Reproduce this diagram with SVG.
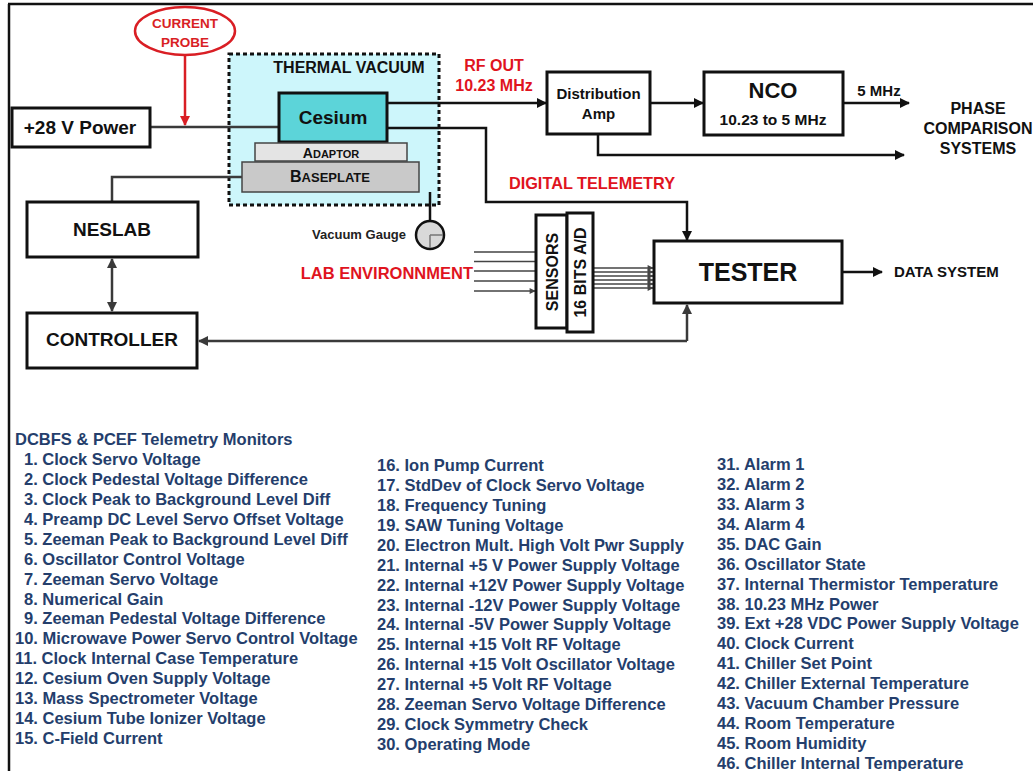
<svg xmlns="http://www.w3.org/2000/svg" width="1033" height="771" viewBox="0 0 1033 771">
<defs>
<style>
text{font-family:"Liberation Sans",Arial,sans-serif;font-weight:bold}
.box{fill:#fff;stroke:#111;stroke-width:3}
.lbl{font-size:19px;fill:#111;text-anchor:middle}
.mid{text-anchor:middle;fill:#111}
.red{fill:#e0141e}
.ln{fill:none;stroke:#111;stroke-width:2.5}
.lg{fill:none;stroke:#3a3a3a;stroke-width:2.5}
.thin{fill:none;stroke:#444;stroke-width:1.5}
.list text{font-size:16.5px;fill:#243e6c}
</style>
<marker id="ah" viewBox="0 0 10 10" refX="9" refY="5" markerWidth="11" markerHeight="10" orient="auto" markerUnits="userSpaceOnUse"><path d="M0,0L10,5L0,10z" fill="#111"/></marker>
<marker id="ahg" viewBox="0 0 10 10" refX="9" refY="5" markerWidth="11" markerHeight="10" orient="auto-start-reverse" markerUnits="userSpaceOnUse"><path d="M0,0L10,5L0,10z" fill="#3a3a3a"/></marker>
<marker id="ahs" viewBox="0 0 10 10" refX="9" refY="5" markerWidth="7" markerHeight="6" orient="auto" markerUnits="userSpaceOnUse"><path d="M0,0L10,5L0,10z" fill="#444"/></marker>
<marker id="ahr" viewBox="0 0 10 10" refX="9" refY="5" markerWidth="11" markerHeight="10" orient="auto" markerUnits="userSpaceOnUse"><path d="M0,0L10,5L0,10z" fill="#d91e24"/></marker>
</defs>
<rect width="1033" height="771" fill="#fff"/>
<path d="M8,4H1033M9,4V771" stroke="#111" stroke-width="2.5" fill="none"/>

<g id="thermal-vacuum">
<rect x="229" y="54" width="210" height="151" fill="#cdf6fb" stroke="#111" stroke-width="3" stroke-dasharray="4 3"/>
<text x="349" y="72.5" class="mid" font-size="16">THERMAL VACUUM</text>
</g>

<g id="connectors">
<path d="M185,56V125" fill="none" stroke="#d91e24" stroke-width="2.5" marker-end="url(#ahr)"/>
<path class="lg" d="M150,127H279"/>
<path class="lg" d="M242,177H112V202"/>
<path class="lg" d="M112,259V311" marker-start="url(#ahg)" marker-end="url(#ahg)"/>
<path class="lg" d="M687,341H199" marker-end="url(#ahg)"/>
<path class="lg" d="M687,341V305" marker-end="url(#ahg)"/>
<path class="ln" d="M387,103H546" marker-end="url(#ah)"/>
<path class="ln" d="M387,128H486V202H687V240" marker-end="url(#ah)"/>
<path class="ln" d="M650,103H703" marker-end="url(#ah)"/>
<path class="ln" d="M843,103H909" marker-end="url(#ah)"/>
<path class="ln" d="M598,134V155H904" marker-end="url(#ah)"/>
<path class="ln" d="M842,272H882" marker-end="url(#ah)"/>
<path class="ln" d="M430,192V221"/>
<path class="thin" d="M474,252H535M474,261.5H535M474,271H535M474,281H535M474,291H535" marker-end="url(#ahs)"/>
<path class="thin" d="M593,268H653" marker-end="url(#ahs)"/>
<path class="thin" d="M593,272H653" marker-end="url(#ahs)"/>
<path class="thin" d="M593,276H653" marker-end="url(#ahs)"/>
<path class="thin" d="M593,280H653" marker-end="url(#ahs)"/>
<path class="thin" d="M593,284H653" marker-end="url(#ahs)"/>
<path class="thin" d="M593,288H653" marker-end="url(#ahs)"/>
</g>

<g id="current-probe">
<ellipse cx="185" cy="31" rx="50" ry="24" fill="#fff" stroke="#d91e24" stroke-width="2.5"/>
<text x="185" y="28" class="mid" font-size="13.5" style="fill:#d91e24">CURRENT</text>
<text x="185" y="47" class="mid" font-size="13.5" style="fill:#d91e24">PROBE</text>
</g>

<g id="power">
<rect class="box" x="12" y="108" width="138" height="39"/>
<text x="80" y="133.5" class="lbl">+28 V Power</text>
</g>

<g id="cesium">
<rect x="279" y="93" width="108" height="49" fill="#5cd4d9" stroke="#111" stroke-width="3"/>
<text x="333" y="124" class="lbl">Cesium</text>
</g>
<g id="adaptor">
<rect x="255" y="143" width="152" height="18" fill="#e4e4e4" stroke="#444" stroke-width="1.5"/>
<text x="331" y="157.5" class="mid" fill="#222"><tspan font-size="14">A</tspan><tspan font-size="11">DAPTOR</tspan></text>
</g>
<g id="baseplate">
<rect x="242" y="162" width="177" height="30" fill="#c9c9c9" stroke="#444" stroke-width="1.5"/>
<text x="330" y="182" class="mid" fill="#222"><tspan font-size="16">B</tspan><tspan font-size="13">ASEPLATE</tspan></text>
</g>

<g id="vacuum-gauge">
<circle cx="430" cy="235" r="14" fill="#d9d9d9" stroke="#111" stroke-width="2.5"/>
<path d="M430,235H443M430,235V248" stroke="#777" stroke-width="1.5" fill="none"/>
<text x="406" y="239" font-size="13" fill="#222" text-anchor="end">Vacuum Gauge</text>
</g>

<g id="neslab">
<rect class="box" x="27" y="202" width="171" height="55"/>
<text x="112" y="236" class="lbl">NESLAB</text>
</g>
<g id="controller">
<rect class="box" x="27" y="313" width="170" height="55"/>
<text x="112" y="346" class="lbl">CONTROLLER</text>
</g>

<g id="labels">
<text x="494" y="71" class="mid" font-size="16" style="fill:#e0141e">RF OUT</text>
<text x="494" y="91" class="mid" font-size="16" style="fill:#e0141e">10.23 MHz</text>
<text x="592" y="189" class="mid" font-size="16.3" style="fill:#e0141e">DIGITAL TELEMETRY</text>
<text x="473" y="279" class="red" font-size="16.5" text-anchor="end">LAB ENVIRONNMENT</text>
<text x="879" y="95.5" class="mid" font-size="15">5 MHz</text>
<text x="978" y="114" class="mid" font-size="16">PHASE</text>
<text x="978" y="134" class="mid" font-size="16">COMPARISON</text>
<text x="978" y="154" class="mid" font-size="16">SYSTEMS</text>
<text x="894" y="277" font-size="15" fill="#111">DATA SYSTEM</text>
</g>

<g id="distribution-amp">
<rect class="box" x="547" y="72" width="103" height="62"/>
<text x="598.5" y="99" class="mid" font-size="15">Distribution</text>
<text x="598.5" y="119" class="mid" font-size="15">Amp</text>
</g>
<g id="nco">
<rect class="box" x="704" y="72" width="139" height="63"/>
<text x="773" y="98" class="mid" font-size="22">NCO</text>
<text x="773" y="124.5" class="mid" font-size="15.5">10.23 to 5 MHz</text>
</g>

<g id="sensors">
<rect class="box" x="536" y="215" width="31" height="113"/>
<text transform="translate(558,272) rotate(-90)" class="mid" font-size="16">SENSORS</text>
</g>
<g id="ad">
<rect class="box" x="567" y="213" width="26" height="119"/>
<text transform="translate(586,272.5) rotate(-90)" class="mid" font-size="16">16 BITS A/D</text>
</g>

<g id="tester">
<rect class="box" x="654" y="241" width="188" height="62"/>
<text x="748" y="281" class="mid" font-size="25">TESTER</text>
</g>

<g class="list" id="telemetry-list">
<text x="15" y="445">DCBFS &amp; PCEF Telemetry Monitors</text>
<text x="24" y="465">1. Clock Servo Voltage</text>
<text x="24" y="484.9">2. Clock Pedestal Voltage Difference</text>
<text x="24" y="504.9">3. Clock Peak to Background Level Diff</text>
<text x="24" y="524.8">4. Preamp DC Level Servo Offset Voltage</text>
<text x="24" y="544.7">5. Zeeman Peak to Background Level Diff</text>
<text x="24" y="564.7">6. Oscillator Control Voltage</text>
<text x="24" y="584.6">7. Zeeman Servo Voltage</text>
<text x="24" y="604.5">8. Numerical Gain</text>
<text x="24" y="624.4">9. Zeeman Pedestal Voltage Difference</text>
<text x="15" y="644.4">10. Microwave Power Servo Control Voltage</text>
<text x="15" y="664.3">11. Clock Internal Case Temperature</text>
<text x="15" y="684.2">12. Cesium Oven Supply Voltage</text>
<text x="15" y="704.2">13. Mass Spectrometer Voltage</text>
<text x="15" y="724.1">14. Cesium Tube Ionizer Voltage</text>
<text x="15" y="744">15. C-Field Current</text>

<text x="377" y="471">16. Ion Pump Current</text>
<text x="377" y="490.9">17. StdDev of Clock Servo Voltage</text>
<text x="377" y="510.9">18. Frequency Tuning</text>
<text x="377" y="530.8">19. SAW Tuning Voltage</text>
<text x="377" y="550.7">20. Electron Mult. High Volt Pwr Supply</text>
<text x="377" y="570.7">21. Internal +5 V Power Supply Voltage</text>
<text x="377" y="590.6">22. Internal +12V Power Supply Voltage</text>
<text x="377" y="610.5">23. Internal -12V Power Supply Voltage</text>
<text x="377" y="630.4">24. Internal -5V Power Supply Voltage</text>
<text x="377" y="650.4">25. Internal +15 Volt RF Voltage</text>
<text x="377" y="670.3">26. Internal +15 Volt Oscillator Voltage</text>
<text x="377" y="690.2">27. Internal +5 Volt RF Voltage</text>
<text x="377" y="710.2">28. Zeeman Servo Voltage Difference</text>
<text x="377" y="730.1">29. Clock Symmetry Check</text>
<text x="377" y="750">30. Operating Mode</text>

<text x="717" y="470">31. Alarm 1</text>
<text x="717" y="489.9">32. Alarm 2</text>
<text x="717" y="509.9">33. Alarm 3</text>
<text x="717" y="529.8">34. Alarm 4</text>
<text x="717" y="549.7">35. DAC Gain</text>
<text x="717" y="569.7">36. Oscillator State</text>
<text x="717" y="589.6">37. Internal Thermistor Temperature</text>
<text x="717" y="609.5">38. 10.23 MHz Power</text>
<text x="717" y="629.4">39. Ext +28 VDC Power Supply Voltage</text>
<text x="717" y="649.4">40. Clock Current</text>
<text x="717" y="669.3">41. Chiller Set Point</text>
<text x="717" y="689.2">42. Chiller External Temperature</text>
<text x="717" y="709.2">43. Vacuum Chamber Pressure</text>
<text x="717" y="729.1">44. Room Temperature</text>
<text x="717" y="749">45. Room Humidity</text>
<text x="717" y="769">46. Chiller Internal Temperature</text>
</g>
</svg>
